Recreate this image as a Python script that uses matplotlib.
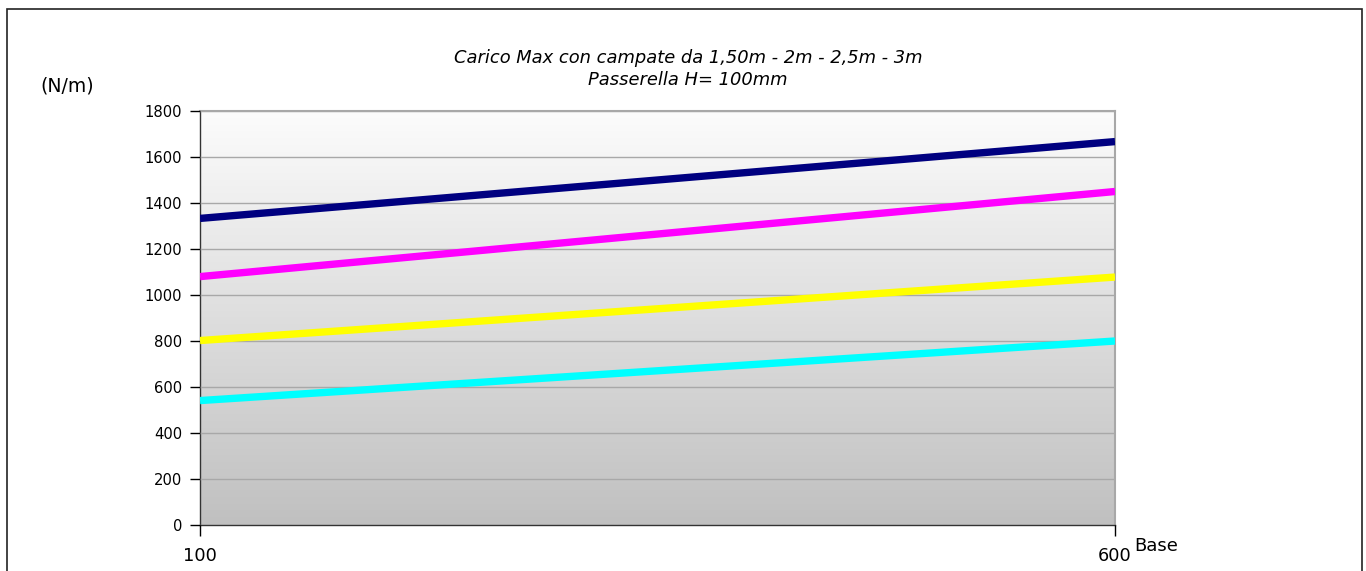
import numpy as np
import matplotlib.pyplot as plt
from matplotlib.patches import Rectangle

# Data
base = [100, 600]
campata_150 = [1333, 1667]
campata_200 = [1080, 1450]
campata_250 = [802, 1078]
campata_300 = [541, 800]
colors = ["#000080", "#ff00ff", "#ffff00", "#00ffff"]
series = [campata_150, campata_200, campata_250, campata_300]

fig = plt.figure(figsize=(13.66, 5.71), dpi=100)
W, H = 1366, 571

# outer frame
fig.patches.append(Rectangle((7 / W, -0.01), 1355 / W, 1 - 9 / H + 0.01,
                             transform=fig.transFigure, fill=False,
                             edgecolor="#222222", linewidth=1.2))

ax = fig.add_axes([200 / W, 1 - 525 / H, 915 / W, 414 / H])

# gradient background
grad = np.linspace(0, 1, 256).reshape(-1, 1)
ax.imshow(grad, extent=[0, 1, 0, 1], transform=ax.transAxes, aspect="auto",
          cmap=plt.matplotlib.colors.LinearSegmentedColormap.from_list(
              "g", ["#fcfcfc", "#c0c0c0"]), zorder=0)

x = np.arange(len(base))
for vals, c in zip(series, colors):
    ax.plot(x, vals, color=c, linewidth=5.3, solid_capstyle="butt", zorder=3)

ax.set_xlim(0, 1)
ax.set_ylim(0, 1800)
ax.set_yticks(np.arange(0, 1801, 200))
ax.set_xticks(x)
ax.set_xticklabels([str(b) for b in base], fontsize=12.8)
ax.tick_params(axis="y", labelsize=10.6, direction="out", length=7, width=1, pad=6)
ax.tick_params(axis="x", direction="out", length=8, width=1, pad=8)
ax.yaxis.grid(True, color="#a8a8a8", linewidth=1, zorder=1)
ax.set_axisbelow(False)

for s in ["top", "right"]:
    ax.spines[s].set_color("#a8a8a8")
    ax.spines[s].set_linewidth(1.5)
for s in ["left", "bottom"]:
    ax.spines[s].set_color("#333333")
    ax.spines[s].set_linewidth(1)

fig.text(688 / W, 1 - 58 / H, "Carico Max con campate da 1,50m - 2m - 2,5m - 3m",
         ha="center", va="center", fontsize=12.9, style="italic")
fig.text(688 / W, 1 - 80 / H, "Passerella H= 100mm",
         ha="center", va="center", fontsize=12.9, style="italic")
fig.text(40 / W, 1 - 86 / H, "(N/m)", ha="left", va="center", fontsize=13.6)
fig.text(1134 / W, 1 - 546 / H, "Base", ha="left", va="center", fontsize=13)

fig.savefig("out.png", dpi=100)
